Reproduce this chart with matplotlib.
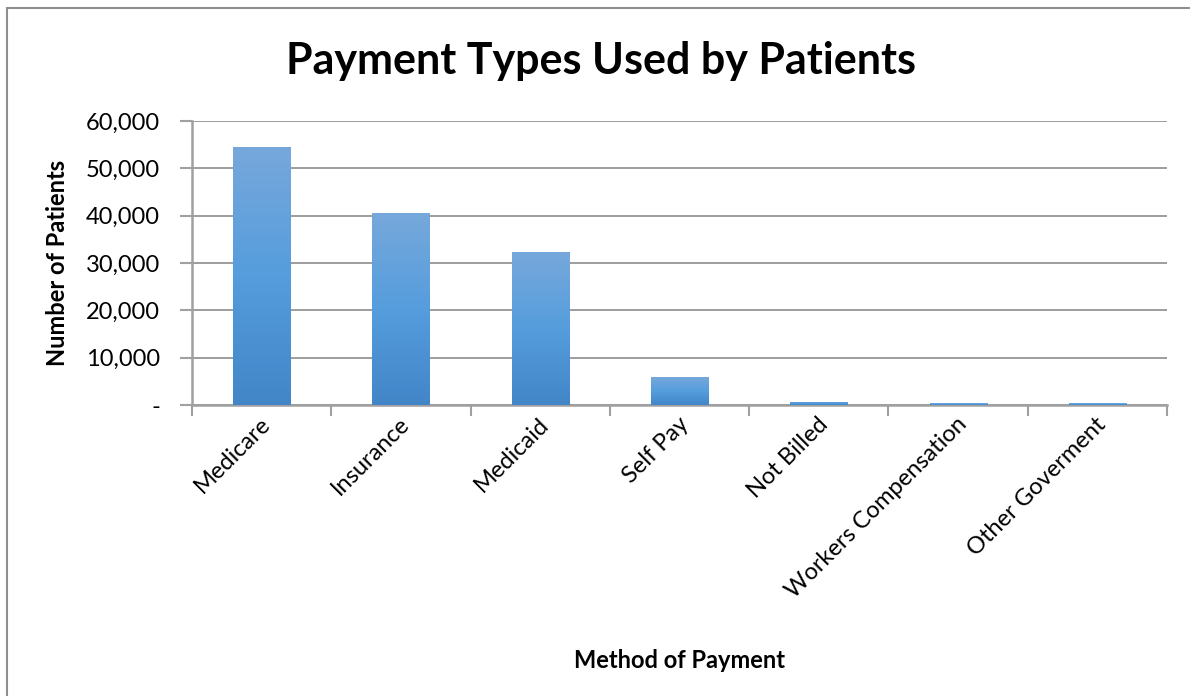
import matplotlib.pyplot as plt
import matplotlib.patches as mpatches
import matplotlib.transforms as mtransforms
import numpy as np
from matplotlib.ticker import FuncFormatter
from matplotlib.colors import LinearSegmentedColormap

plt.rcParams['font.family'] = ['Lato', 'DejaVu Sans']

# données
methods = ["Medicare", "Insurance", "Medicaid", "Self Pay", "Not Billed",
           "Workers Compensation", "Other Goverment"]
patients = [54500, 40600, 32300, 5900, 700, 400, 400]
yticks = [0, 10000, 20000, 30000, 40000, 50000, 60000]

TOP = "#77a8db"
MID = "#559ddd"
BOT = "#4286c8"
GRID = "#8c8c8c"

fig = plt.figure(figsize=(11.9, 6.96), dpi=100)
ax = fig.add_axes([0.1613, 0.418, 0.9807 - 0.1613, 0.826 - 0.418])

# cadre du graphique (haut + gauche visibles)
fig.patches.append(mpatches.Rectangle((7 / 1190, -0.1), 1.2, 1 - 8 / 696 + 0.1,
                                      transform=fig.transFigure, fill=False,
                                      edgecolor="#8f8f8f", linewidth=1.5))

x = np.arange(len(methods))
bars = ax.bar(x, patients, width=0.41, color=MID, zorder=3)

# dégradé vertical dans chaque barre
cmap = LinearSegmentedColormap.from_list("grad", [BOT, MID, TOP])
grad = np.linspace(0, 1, 256).reshape(-1, 1)
for bar in bars:
    x0, y0 = bar.get_x(), bar.get_y()
    w, h = bar.get_width(), bar.get_height()
    bar.set_facecolor("none")
    im = ax.imshow(grad, extent=[x0, x0 + w, y0, y0 + h], origin="lower",
                   cmap=cmap, aspect="auto", zorder=3)
    im.set_clip_path(bar)

ax.set_xlim(-0.5, len(methods) - 0.5)
ax.set_ylim(0, 60000)
ax.set_yticks(yticks)
ax.yaxis.set_major_formatter(FuncFormatter(lambda v, p: "-" if v == 0 else f"{int(v):,}"))
ax.grid(axis="y", color=GRID, linewidth=1.2, zorder=0)

ax.set_xticks(x)
ax.set_xticklabels(methods, rotation=45, ha="right", rotation_mode="anchor", fontsize=17)
ax.tick_params(axis="x", length=0, pad=6)
shift = mtransforms.ScaledTranslation(-2 / 100, 0, fig.dpi_scale_trans)
for lbl in ax.get_xticklabels():
    lbl.set_transform(lbl.get_transform() + shift)
ax.set_xticks(np.arange(len(methods) + 1) - 0.5, minor=True)
ax.tick_params(axis="x", which="minor", length=8, width=1.5, color="#a0a0a0", direction="out")
ax.tick_params(axis="y", labelsize=17, length=9, width=1.5, color="#a0a0a0", pad=14)

for s in ["top", "right"]:
    ax.spines[s].set_visible(False)
for s in ["left", "bottom"]:
    ax.spines[s].set_color("#a0a0a0")
    ax.spines[s].set_linewidth(1.8)

ax.set_ylabel("Number of Patients", fontsize=17, fontweight="bold", labelpad=12)
ax.set_xlabel("Method of Payment", fontsize=17, fontweight="bold", labelpad=34)
fig.text(0.505, 0.912, "Payment Types Used by Patients", ha="center", va="center",
         fontsize=31, fontweight="bold")

fig.savefig("out.png", dpi=100)
